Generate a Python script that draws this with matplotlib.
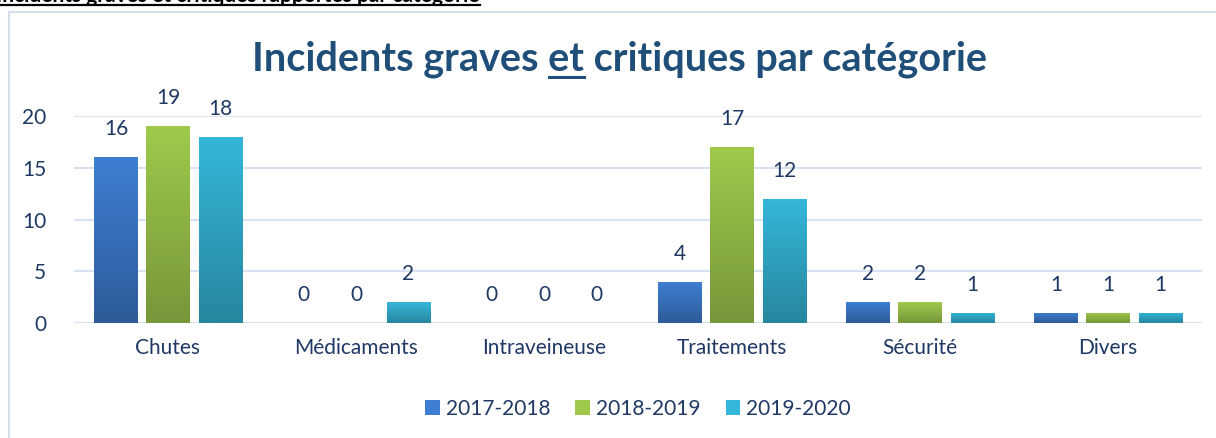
import numpy as np
import matplotlib
matplotlib.use("Agg")
import matplotlib.pyplot as plt
from matplotlib.colors import LinearSegmentedColormap
from matplotlib.patches import Rectangle
from matplotlib.lines import Line2D

plt.rcParams['font.family'] = ['Lato', 'DejaVu Sans']

# data
categories = ["Chutes", "Médicaments", "Intraveineuse", "Traitements", "Sécurité", "Divers"]
seasons = ["2017-2018", "2018-2019", "2019-2020"]
v_2017 = [16, 0, 0, 4, 2, 1]
v_2018 = [19, 0, 0, 17, 2, 1]
v_2019 = [18, 2, 0, 12, 1, 1]
values = [v_2017, v_2018, v_2019]

# (top colour, bottom colour) for the vertical gradients
grads = [("#3E7ED2", "#2E5B99"), ("#A0C94B", "#76973A"), ("#36B6DA", "#26879E")]
txt_col = "#1F3864"
fs = 15

fig = plt.figure(figsize=(12.16, 4.38), dpi=100)

# frame of the chart object and the cut header above it
fig.patches.append(Rectangle((9 / 1216, -0.05), 1.2, (438 - 12) / 438 + 0.05,
                             transform=fig.transFigure, fill=False,
                             edgecolor="#D6DFEC", linewidth=1.5))
fig.text(-4 / 1216, 1 - 2 / 438, "Incidents graves et critiques rapportés par catégorie",
         fontsize=15, fontweight="bold", color="black", va="baseline", ha="left")
fig.add_artist(Line2D([0, 480 / 1216], [1 - 5 / 438] * 2, transform=fig.transFigure,
                      color="black", linewidth=1.6))

ax = fig.add_axes([74 / 1216, (438 - 323) / 438, (1202 - 74) / 1216, (323 - 116) / 438])

x = np.arange(len(categories))
step = 0.277
width = 0.229

for i, (vals, (ctop, cbot)) in enumerate(zip(values, grads)):
    cmap = LinearSegmentedColormap.from_list("g%d" % i, [cbot, ctop])
    bars = ax.bar(x + (i - 1) * step, vals, width, color=ctop, label=seasons[i],
                  zorder=3, linewidth=0)
    for b, v in zip(bars, vals):
        if v > 0:
            grad = np.linspace(1, 0, 100).reshape(-1, 1)
            im = ax.imshow(grad, cmap=cmap, aspect="auto", zorder=3.5,
                           extent=[b.get_x(), b.get_x() + b.get_width(), 0, b.get_height()],
                           vmin=0, vmax=1)
            im.set_clip_path(b)
            # soft shadow
            ax.add_patch(Rectangle((b.get_x() + 0.004, -0.25), b.get_width(), b.get_height(),
                                   facecolor="#000000", alpha=0.08, linewidth=0, zorder=2.5))
        ax.annotate(str(v), (b.get_x() + b.get_width() / 2, v), xytext=(0, 13),
                    textcoords="offset points", ha="center", va="bottom",
                    fontsize=fs, color=txt_col, annotation_clip=False)

ax.set_xlim(-0.5, len(categories) - 0.5)
ax.set_ylim(0, 20)
ax.set_yticks([0, 5, 10, 15, 20])
ax.set_xticks(x)
ax.set_xticklabels(categories)
ax.tick_params(axis="both", length=0, labelsize=fs, labelcolor=txt_col)
ax.tick_params(axis="y", pad=20)
ax.tick_params(axis="x", pad=11)
ax.grid(axis="y", color="#D9E2F3", linewidth=1.5, zorder=0)
for s in ax.spines.values():
    s.set_visible(False)
ax.set_facecolor("none")

# title with underlined "et"
t_pre = "Incidents graves "
t_mid = "et"
t_full = "Incidents graves et critiques par catégorie"
tfs = 28.5
title = fig.text(620 / 1216, 1 - 59 / 438, t_full, ha="center", va="center",
                 fontsize=tfs, fontweight="bold", color="#1F4E79")
fig.canvas.draw()
r = fig.canvas.get_renderer()
full_bb = title.get_window_extent(r)

def text_width(s):
    tt = fig.text(0, 0, s, fontsize=tfs, fontweight="bold")
    w = tt.get_window_extent(r).width
    tt.remove()
    return w

x0 = full_bb.x0 + text_width(t_pre)
x1 = full_bb.x0 + text_width(t_pre + t_mid)
yline = full_bb.y0 + 1
fig.add_artist(Line2D([x0 / fig.bbox.width, x1 / fig.bbox.width],
                      [yline / fig.bbox.height] * 2, transform=fig.transFigure,
                      color="#1F4E79", linewidth=2.2))

leg = ax.legend(loc="center", bbox_to_anchor=(0.5, -0.415), ncol=3, frameon=False,
                fontsize=fs, handlelength=0.7, handleheight=0.7, handletextpad=0.3,
                columnspacing=1.2, labelcolor=txt_col)

fig.savefig("out.png", dpi=100)
